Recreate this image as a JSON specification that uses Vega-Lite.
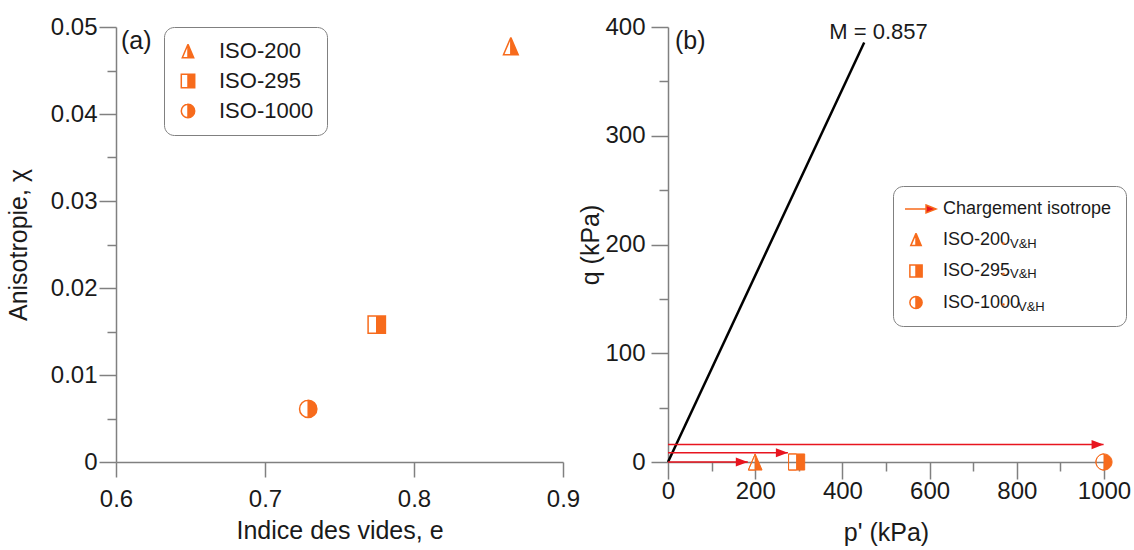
{
  "$schema": "https://vega.github.io/schema/vega-lite/v6.json",
  "padding": {"left": 6, "top": 15, "right": 3, "bottom": 3},
  "background": "white",
  "config": {
    "view": {"stroke": null},
    "font": "Liberation Sans",
    "axis": {"domainColor": "#808080", "tickColor": "#808080", "domainWidth": 1.5, "tickWidth": 1.5, "labelColor": "#1a1a1a", "titleColor": "#1a1a1a", "labelFont": "Liberation Sans", "titleFont": "Liberation Sans", "labelFontSize": 24, "titleFontSize": 25, "titleFontWeight": "normal", "grid": false, "labelOverlap": false, "labelFlush": false},
    "legend": {"labelFont": "Liberation Sans", "labelColor": "#1a1a1a"}
  },
  "bounds": "flush",
  "spacing": 105,
  "resolve": {
    "scale": {"color": "independent", "shape": "independent", "opacity": "independent", "strokeWidth": "independent"},
    "legend": {"color": "independent", "shape": "independent", "opacity": "independent", "strokeWidth": "independent"}
  },
  "hconcat": [
    {
      "width": 447,
      "height": 435,
      "layer": [
        {
          "data": {"values": [
            {"serie": "ISO-200", "e": 0.865, "chi": 0.0478},
            {"serie": "ISO-295", "e": 0.775, "chi": 0.0158},
            {"serie": "ISO-1000", "e": 0.729, "chi": 0.0061}
          ]},
          "mark": {"type": "point", "filled": true, "opacity": 1, "stroke": "#F76B1C", "strokeWidth": 1.5, "size": 300},
          "encoding": {
            "x": {"field": "e", "type": "quantitative", "scale": {"domain": [0.6, 0.9], "nice": false, "zero": false},
              "axis": {"title": "Indice des vides, e", "values": [0.6, 0.7, 0.8, 0.9], "format": ".1f", "tickSize": 15, "labelPadding": 10, "titlePadding": 7}},
            "y": {"field": "chi", "type": "quantitative", "scale": {"domain": [0, 0.05], "nice": false},
              "axis": {"title": "Anisotropie, χ", "values": [0, 0.005, 0.01, 0.015, 0.02, 0.025, 0.03, 0.035, 0.04, 0.045, 0.05],
                "labelExpr": "round(datum.value*1000) % 10 === 0 ? format(datum.value, '~g') : ''",
                "tickSize": {"condition": {"test": "round(datum.value*1000) % 10 === 0", "value": 17}, "value": 9},
                "labelPadding": 2, "titlePadding": 19}},
            "shape": {"field": "serie", "type": "nominal",
              "scale": {"domain": ["ISO-200", "ISO-295", "ISO-1000"],
                "range": ["M0,-1L0.85,1L0,1Z M0,-1L-0.85,1L0,1L-0.85,1Z", "M0,-1L1,-1L1,1L0,1Z M0,-1L-1,-1L-1,1L0,1L-1,1L-1,-1Z", "M0,-1A1,1 0 0,1 0,1Z M0,-1A1,1 0 0,0 0,1A1,1 0 0,1 0,-1Z"]},
              "legend": {"title": null, "orient": "none", "legendX": 48, "legendY": 0, "direction": "vertical", "padding": 13, "rowPadding": 8, "labelFontSize": 22, "symbolSize": 180, "labelOffset": 20, "strokeColor": "#808080", "fillColor": "white", "cornerRadius": 10, "symbolOpacity": 1,
                "encode": {"symbols": {"update": {"stroke": {"value": "#F76B1C"}, "strokeWidth": {"value": 1.5}, "opacity": {"value": 1}}}}}},
            "color": {"field": "serie", "type": "nominal",
              "scale": {"domain": ["ISO-200", "ISO-295", "ISO-1000"], "range": ["#F76B1C", "#F76B1C", "#F76B1C"]},
              "legend": {"title": null, "orient": "none", "legendX": 48, "legendY": 0, "direction": "vertical", "padding": 13, "rowPadding": 8, "labelFontSize": 22, "symbolSize": 180, "labelOffset": 20, "strokeColor": "#808080", "fillColor": "white", "cornerRadius": 10, "symbolOpacity": 1,
                "encode": {"symbols": {"update": {"stroke": {"value": "#F76B1C"}, "strokeWidth": {"value": 1.5}, "opacity": {"value": 1}}}}}}
          }
        },
        {
          "data": {"values": [{"label": "(a)"}]},
          "mark": {"type": "text", "align": "left", "baseline": "top", "dx": 5, "dy": 2, "fontSize": 25, "color": "#1a1a1a"},
          "encoding": {
            "x": {"datum": 0.6, "type": "quantitative"},
            "y": {"datum": 0.05, "type": "quantitative"},
            "text": {"field": "label"}
          }
        }
      ]
    },
    {
      "width": 436,
      "height": 435,
      "layer": [
        {
          "data": {"values": [{"p": 0, "q": 0}, {"p": 450, "q": 385.7}]},
          "mark": {"type": "line", "color": "black", "strokeWidth": 2.5},
          "encoding": {
            "x": {"field": "p", "type": "quantitative", "scale": {"domain": [0, 1000], "nice": false},
              "axis": {"title": "p' (kPa)", "values": [0, 100, 200, 300, 400, 500, 600, 700, 800, 900, 1000], "format": "d",
                "labelExpr": "datum.value % 200 === 0 ? datum.label : ''",
                "tickSize": {"condition": {"test": "datum.value % 200 === 0", "value": 17}, "value": 9},
                "labelPadding": 0, "titlePadding": 17}},
            "y": {"field": "q", "type": "quantitative", "scale": {"domain": [0, 400], "nice": false},
              "axis": {"title": "q (kPa)", "values": [0, 50, 100, 150, 200, 250, 300, 350, 400], "format": "d",
                "labelExpr": "datum.value % 100 === 0 ? datum.label : ''",
                "tickSize": {"condition": {"test": "datum.value % 100 === 0", "value": 17}, "value": 9},
                "labelPadding": 6, "titlePadding": 1}}
          }
        },
        {
          "data": {"values": [{"label": "M = 0.857"}]},
          "mark": {"type": "text", "align": "center", "baseline": "middle", "fontSize": 22, "color": "#1a1a1a"},
          "encoding": {
            "x": {"datum": 483, "type": "quantitative"},
            "y": {"datum": 395, "type": "quantitative"},
            "text": {"field": "label"}
          }
        },
        {
          "data": {"values": [{"label": "(b)"}]},
          "mark": {"type": "text", "align": "left", "baseline": "top", "dx": 7, "dy": 2, "fontSize": 25, "color": "#1a1a1a"},
          "encoding": {
            "x": {"datum": 0, "type": "quantitative"},
            "y": {"datum": 400, "type": "quantitative"},
            "text": {"field": "label"}
          }
        },
        {
          "data": {"values": [
            {"q": 0, "p0": 0, "p1": 183},
            {"q": 8.5, "p0": 0, "p1": 275},
            {"q": 16, "p0": 0, "p1": 999}
          ]},
          "layer": [
            {
              "mark": {"type": "rule", "color": "#E8151F", "strokeWidth": 1.5},
              "encoding": {
                "x": {"field": "p0", "type": "quantitative"},
                "x2": {"field": "p1"},
                "y": {"field": "q", "type": "quantitative"}
              }
            },
            {
              "mark": {"type": "point", "filled": true, "opacity": 1, "color": "#E8151F", "size": 576, "shape": "M-1,-0.38L0,0L-1,0.38Z"},
              "encoding": {
                "x": {"field": "p1", "type": "quantitative"},
                "y": {"field": "q", "type": "quantitative"}
              }
            }
          ]
        },
        {
          "data": {"values": [
            {"serie": "ISO-200", "sub": "s1", "indice": "V&H", "p": 200, "q": 0},
            {"serie": "ISO-295", "sub": "s2", "indice": "V&H", "p": 295, "q": 0},
            {"serie": "ISO-1000", "sub": "s3", "indice": "V&H", "p": 1000, "q": 0}
          ]},
          "mark": {"type": "point", "filled": true, "stroke": "#F76B1C", "strokeWidth": 1.5, "size": 260},
          "encoding": {
            "x": {"field": "p", "type": "quantitative"},
            "y": {"field": "q", "type": "quantitative"},
            "shape": {"field": "serie", "type": "nominal",
              "scale": {"domain": ["Chargement isotrope", "ISO-200", "ISO-295", "ISO-1000"],
                "range": ["M-1.8,0L1.8,0M1.64,-0.65L3.27,0L1.64,0.65Z", "M0,-1L0.85,1L0,1Z M0,-1L-0.85,1L0,1L-0.85,1Z", "M0,-1L1,-1L1,1L0,1Z M0,-1L-1,-1L-1,1L0,1L-1,1L-1,-1Z", "M0,-1A1,1 0 0,1 0,1Z M0,-1A1,1 0 0,0 0,1A1,1 0 0,1 0,-1Z"]},
              "legend": {"title": null, "orient": "none", "legendX": 225, "legendY": 159, "direction": "vertical", "padding": 14, "rowPadding": 11.5, "labelFontSize": 18, "labelLimit": 300, "symbolSize": 150, "labelOffset": 18, "strokeColor": "#808080", "fillColor": "white", "cornerRadius": 10, "symbolOpacity": 1,
                "encode": {"symbols": {"update": {"stroke": {"signal": "datum.value === 'Chargement isotrope' ? '#E8151F' : '#F76B1C'"}, "strokeWidth": {"value": 1.5}, "opacity": {"value": 1}}}}}},
            "color": {"field": "serie", "type": "nominal",
              "scale": {"domain": ["Chargement isotrope", "ISO-200", "ISO-295", "ISO-1000"], "range": ["#E8151F", "#F76B1C", "#F76B1C", "#F76B1C"]},
              "legend": {"title": null, "orient": "none", "legendX": 225, "legendY": 159, "direction": "vertical", "padding": 14, "rowPadding": 11.5, "labelFontSize": 18, "labelLimit": 300, "symbolSize": 150, "labelOffset": 18, "strokeColor": "#808080", "fillColor": "white", "cornerRadius": 10, "symbolOpacity": 1,
                "encode": {"symbols": {"update": {"stroke": {"signal": "datum.value === 'Chargement isotrope' ? '#E8151F' : '#F76B1C'"}, "strokeWidth": {"value": 1.5}, "opacity": {"value": 1}}}}}},
            "opacity": {"field": "sub", "type": "nominal",
              "scale": {"domain": ["s1", "s2", "s3"], "range": [1, 1, 1]},
              "legend": {"title": null, "orient": "none", "legendX": 329, "legendY": 210, "direction": "vertical", "padding": 0, "rowPadding": 16.5, "labelFontSize": 13, "symbolSize": 1, "symbolOpacity": 0, "labelOffset": 0,
                "labelExpr": "datum.value === 's3' ? '' : 'V&H'",
                "encode": {"symbols": {"update": {"opacity": {"value": 0}}}}}},
            "strokeWidth": {"field": "indice", "type": "nominal",
              "scale": {"domain": ["V&H"], "range": [1.5]},
              "legend": {"title": null, "orient": "none", "legendX": 350, "legendY": 280, "direction": "vertical", "padding": 0, "labelFontSize": 13, "symbolSize": 1, "symbolOpacity": 0, "labelOffset": 0,
                "encode": {"symbols": {"update": {"opacity": {"value": 0}}}}}}
          }
        }
      ]
    }
  ]
}
